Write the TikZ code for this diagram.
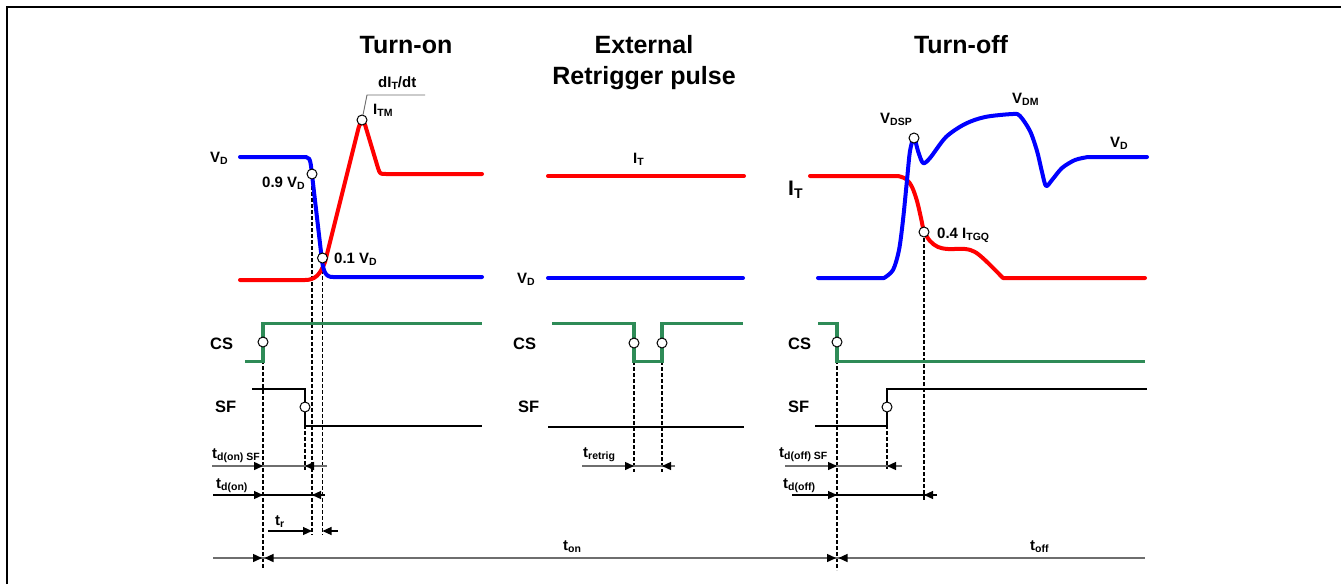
\documentclass[tikz,border=0pt]{standalone}
\usepackage{fontspec}
\setmainfont{Liberation Sans}
\usetikzlibrary{arrows.meta}
\definecolor{sgreen}{RGB}{46,139,87}
\definecolor{dimgray}{RGB}{110,110,110}
\newcommand\sbx[1]{\raisebox{-0.3ex}{\fontsize{10.5}{11}\selectfont #1}}
\newcommand\sbxL[1]{\raisebox{-0.3ex}{\fontsize{14}{14}\selectfont #1}}
\begin{document}
\begin{tikzpicture}[x=1pt,y=-1pt,
  lbl/.style={anchor=base west, inner sep=0, font=\fontsize{15}{16}\selectfont\bfseries},
  biglbl/.style={anchor=base west, inner sep=0, font=\fontsize{16.5}{18}\selectfont\bfseries},
  itlbl/.style={anchor=base west, inner sep=0, font=\fontsize{21}{22}\selectfont\bfseries},
  ttl/.style={anchor=base, inner sep=0, font=\fontsize{25}{28}\selectfont\bfseries},
  vcurve/.style={blue, line width=4pt, line join=round, line cap=round},
  icurve/.style={red, line width=4pt, line join=round, line cap=round},
  cscurve/.style={sgreen, line width=3.5pt},
  sfline/.style={black, line width=2pt},
  guide/.style={black, line width=1.1pt, dash pattern=on 4pt off 2pt},
  mk/.style={circle, draw=black, fill=white, line width=1pt, inner sep=0, minimum size=10pt},
  dimg/.style={dimgray, line width=1.4pt},
  dimk/.style={black, line width=1.2pt},
  tip/.style={-{Triangle[length=9pt,width=8pt,color=black]}},
  leader/.style={dimgray, line width=0.9pt},
]
\useasboundingbox (0,0) rectangle (1341,584);
\fill[white] (0,0) rectangle (1341,584);
% frame
\draw[line width=2pt] (7,584) -- (7,7) -- (1341,7);

% ---------- titles
\node[ttl] (t1) at (406,53) {Turn-on};
\node[ttl] (t2a) at (644,53) {External};
\node[ttl] (t2b) at (644,84) {Retrigger pulse};
\node[ttl] (t3) at (961,53) {Turn-off};

% ---------- marker positions
\coordinate (pITM) at (362,120);
\coordinate (p09) at (312,174);
\coordinate (p01) at (322.5,258);
\coordinate (pCS1) at (263,342);
\coordinate (pSF1) at (305,407);
\coordinate (pCS2a) at (634,343);
\coordinate (pCS2b) at (662,343);
\coordinate (pDSP) at (914,138);
\coordinate (pTGQ) at (924,232);
\coordinate (pCS3) at (837,342);
\coordinate (pSF3) at (887,407);

% ---------- dashed guides
\coordinate (gCS1) at (263,568);
\coordinate (gSF1) at (305,470);
\coordinate (g09) at (312,535);
\coordinate (g01) at (322.5,535);
\coordinate (gCS2a) at (634,472);
\coordinate (gCS2b) at (662,472);
\coordinate (gCS3) at (837,570);
\coordinate (gSF3) at (887,469);
\coordinate (gTGQ) at (924,500);
\draw[guide] (pCS1) -- (gCS1);
\draw[guide] (pSF1) -- (gSF1);
\draw[guide] (p09) -- (g09);
\draw[guide] (p01) -- (g01);
\draw[guide] (pCS2a) -- (gCS2a);
\draw[guide] (pCS2b) -- (gCS2b);
\draw[guide] (pCS3) -- (gCS3);
\draw[guide] (pSF3) -- (gSF3);
\draw[guide] (pTGQ) -- (gTGQ);

% ---------- turn-on waveforms
\draw[icurve] (240,280) -- (305,280) .. controls (315,280) and (320,275) .. (325,262)
  -- (358,130) .. controls (360,121) and (364,119) .. (366,128)
  -- (378,168) .. controls (380,174) .. (386,174) -- (482,174);
\draw[vcurve] (240,157) -- (306,157) .. controls (309,157) and (310,159) .. (311,166)
  -- (321,252) .. controls (323,272) and (325,277) .. (333,277) -- (482,277);
\draw[cscurve] (245,361.5) -- (263,361.5) -- (263,323.5) -- (482,323.5);
\draw[sfline] (252,388.5) -- (305,388.5) -- (305,426) -- (482,426);

% ---------- retrigger waveforms
\draw[icurve] (548,176) -- (744,176);
\draw[vcurve] (548,278) -- (743,278);
\draw[cscurve] (552,323.5) -- (634,323.5) -- (634,361.5) -- (662,361.5) -- (662,323.5) -- (743,323.5);
\draw[sfline] (548,426.5) -- (744,426.5);

% ---------- turn-off waveforms
\draw[icurve] (810,176) -- (898,176)
  plot[smooth, tension=0.55] coordinates {(898,176) (906,179) (912,187) (917,201) (921,218) (924,231) (930,241) (938,247) (948,249) (965,249) (975,252) (986,261) (1003,278)}
  -- (1145,278);
\draw[vcurve] (818,278) -- (884,278)
  plot[smooth, tension=0.5] coordinates {(884,278) (893,270) (899,250) (903,220) (907,180) (910,151) (914,138) (918,151) (923,163) (930,158) (946,137) (965,124) (985,117) (1013,114) (1020,116) (1030,131) (1037,151) (1042,172) (1046,186) (1052,180) (1062,168) (1075,160) (1088,157)}
  -- (1147,157);
\draw[cscurve] (818,323.5) -- (837,323.5) -- (837,361.5) -- (1145,361.5);
\draw[sfline] (815,426) -- (887,426) -- (887,388.5) -- (1147,388.5);

% ---------- markers
\node[mk] (mITM) at (pITM) {};
\node[mk] (m09) at (p09) {};
\node[mk] (m01) at (p01) {};
\node[mk] (mCS1) at (pCS1) {};
\node[mk] (mSF1) at (pSF1) {};
\node[mk] (mCS2a) at (pCS2a) {};
\node[mk] (mCS2b) at (pCS2b) {};
\node[mk] (mDSP) at (pDSP) {};
\node[mk] (mTGQ) at (pTGQ) {};
\node[mk] (mCS3) at (pCS3) {};
\node[mk] (mSF3) at (pSF3) {};

% leader for dI/dt
\coordinate (ld1) at (367,95);
\coordinate (ld2) at (425,95);
\draw[leader] (mITM) -- (ld1) -- (ld2);

% ---------- labels turn-on
\node[lbl] (ldidt) at (378,87) {dI\sbx{T}/dt};
\node[lbl] (litm) at (373,114) {I\sbx{TM}};
\node[lbl] (lvd1) at (210,162) {V\sbx{D}};
\node[lbl] (l09) at (262,187) {0.9 V\sbx{D}};
\node[lbl] (l01) at (334,263) {0.1 V\sbx{D}};
\node[biglbl] (lcs1) at (210,349.5) {CS};
\node[biglbl] (lsf1) at (215,412.5) {SF};
\node[lbl] (ltdonsf) at (212,458.5) {t\sbx{d(on) SF}};
\node[lbl] (ltdon) at (216,488) {t\sbx{d(on)}};
\node[lbl] (ltr) at (275,525) {t\sbx{r}};

% ---------- labels retrigger
\node[lbl] (lit2) at (633,163) {I\sbx{T}};
\node[lbl] (lvd2) at (517,283.5) {V\sbx{D}};
\node[biglbl] (lcs2) at (513,349.5) {CS};
\node[biglbl] (lsf2) at (518,412.5) {SF};
\node[lbl] (ltret) at (583,457) {t\sbx{retrig}};
\node[lbl] (lton) at (563,550) {t\sbx{on}};

% ---------- labels turn-off
\node[lbl] (lvdsp) at (880,123.5) {V\sbx{DSP}};
\node[lbl] (lvdm) at (1012,103.5) {V\sbx{DM}};
\node[lbl] (lvd3) at (1110,147) {V\sbx{D}};
\node[itlbl] (lit3) at (788,195) {I\sbxL{T}};
\node[lbl] (ltgq) at (937,238.5) {0.4 I\sbx{TGQ}};
\node[biglbl] (lcs3) at (788,349.5) {CS};
\node[biglbl] (lsf3) at (788,412.5) {SF};
\node[lbl] (ltdoffsf) at (779,457.5) {t\sbx{d(off) SF}};
\node[lbl] (ltdoff) at (783,488) {t\sbx{d(off)}};
\node[lbl] (ltoff) at (1030,550) {t\sbx{off}};

% ---------- dimension arrows
% t_d(on) SF
\coordinate (a1s) at (212,466); \coordinate (a1e) at (327,466);
\coordinate (a1l) at (263,466); \coordinate (a1r) at (305,466);
\draw[dimg] (a1s) -- (a1e);
\draw[dimg,tip] (a1s) -- (a1l);
\draw[dimg,tip] (a1e) -- (a1r);
% t_d(on)
\coordinate (a2s) at (213,495); \coordinate (a2e) at (325,495);
\coordinate (a2l) at (263,495); \coordinate (a2r) at (312,495);
\draw[dimk] (a2s) -- (a2e);
\draw[dimk,tip] (a2s) -- (a2l);
\draw[dimk,tip] (a2e) -- (a2r);
% t_r
\coordinate (a3s) at (268,531); \coordinate (a3l) at (312,531);
\coordinate (a3e) at (338,531); \coordinate (a3r) at (322.5,531);
\draw[dimk,tip] (a3s) -- (a3l);
\draw[dimk,tip] (a3e) -- (a3r);
% t_retrig
\coordinate (a4s) at (582,466); \coordinate (a4e) at (675,466);
\coordinate (a4l) at (634,466); \coordinate (a4r) at (662,466);
\draw[dimg] (a4s) -- (a4e);
\draw[dimg,tip] (a4s) -- (a4l);
\draw[dimg,tip] (a4e) -- (a4r);
% t_d(off) SF
\coordinate (a5s) at (785,466); \coordinate (a5e) at (902,466);
\coordinate (a5l) at (837,466); \coordinate (a5r) at (887,466);
\draw[dimg] (a5s) -- (a5e);
\draw[dimg,tip] (a5s) -- (a5l);
\draw[dimg,tip] (a5e) -- (a5r);
% t_d(off)
\coordinate (a6s) at (792,495); \coordinate (a6e) at (937,495);
\coordinate (a6l) at (837,495); \coordinate (a6r) at (924,495);
\draw[dimk] (a6s) -- (a6e);
\draw[dimk,tip] (a6s) -- (a6l);
\draw[dimk,tip] (a6e) -- (a6r);
% t_on / t_off baseline
\coordinate (bs) at (213,558); \coordinate (be) at (1145,558);
\coordinate (b1a) at (262,558); \coordinate (b1f) at (285,558); \coordinate (b1b) at (264.5,558);
\coordinate (b2f) at (815,558); \coordinate (b2a) at (836,558);
\coordinate (b2g) at (860,558); \coordinate (b2b) at (838.5,558);
\draw[dimg] (bs) -- (be);
\draw[dimg,tip] (bs) -- (b1a);
\draw[dimg,tip] (b1f) -- (b1b);
\draw[dimg,tip] (b2f) -- (b2a);
\draw[dimg,tip] (b2g) -- (b2b);
\end{tikzpicture}
\end{document}
